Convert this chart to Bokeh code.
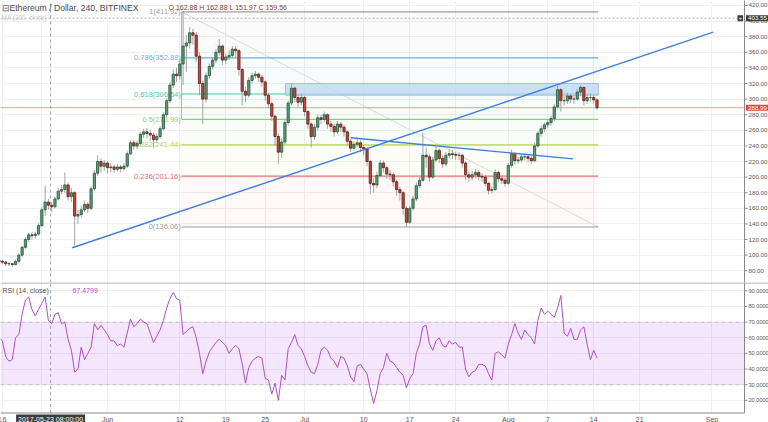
import numpy as np
from bokeh.plotting import figure
from bokeh.layouts import column
from bokeh.models import (ColumnDataSource, Range1d, FixedTicker, BoxAnnotation, Label)
from bokeh.core.properties import value
from bokeh.embed import file_html
from bokeh.resources import INLINE

FONT = "Liberation Sans"

# ---------------- data (ETH/USD, bars of 12h from 2017-05-15 12:00; x = days since 2017-06-01) ----------------
start_day = -16.5
bar_days = 0.5
first_open = 93
close = [92, 91, 89, 89, 88, 92, 100, 110, 120, 126,
         125, 127, 138, 158, 168, 164, 162, 172, 182, 184,
         190, 175, 180, 150, 152, 158, 165, 160, 185, 205,
         220, 214, 218, 212, 213, 210, 213, 211, 214, 230,
         244, 240, 243, 255, 258, 256, 254, 248, 252, 262,
         280, 298, 318, 332, 330, 345, 368, 372, 385, 382,
         355, 320, 300, 330, 342, 350, 360, 368, 350, 354,
         356, 364, 362, 338, 310, 305, 324, 330, 332, 328,
         322, 305, 294, 278, 252, 232, 245, 270, 295, 314,
         302, 296, 302, 284, 268, 252, 264, 276, 274, 280,
         268, 265, 258, 268, 264, 258, 246, 237, 242, 244,
         238, 236, 220, 192, 190, 202, 218, 212, 204, 203,
         194, 184, 180, 160, 142, 160, 172, 189, 196, 228,
         226, 200, 222, 234, 224, 217, 228, 230, 229, 228,
         228, 218, 203, 200, 203, 206, 201, 200, 192, 183,
         184, 206, 198, 196, 192, 215, 230, 221, 222, 226,
         226, 224, 221, 240, 256, 262, 267, 270, 275, 290,
         312, 298, 298, 304, 300, 300, 309, 315, 298, 302,
         302, 299, 289]
high = [95, 94, 92, 91, 90, 94, 102, 112, 123, 129,
        130, 130, 141, 162, 189, 172, 168, 175, 186, 190,
        206, 193, 186, 182, 158, 163, 170, 168, 188, 209,
        228, 224, 222, 221, 218, 216, 217, 216, 218, 233,
        247, 248, 247, 258, 262, 263, 260, 257, 256, 265,
        283, 301, 322, 338, 340, 352, 412, 382, 392, 390,
        386, 360, 324, 334, 346, 354, 364, 377, 370, 358,
        362, 368, 368, 364, 340, 316, 328, 334, 336, 334,
        331, 324, 308, 297, 280, 256, 250, 274, 298, 320,
        316, 306, 307, 304, 286, 270, 268, 280, 280, 284,
        282, 272, 268, 272, 271, 267, 260, 249, 246, 249,
        247, 241, 238, 222, 198, 207, 222, 221, 214, 209,
        206, 197, 188, 182, 163, 163, 176, 193, 200, 257,
        238, 229, 226, 240, 237, 228, 232, 236, 235, 233,
        232, 230, 220, 207, 208, 210, 209, 205, 203, 194,
        188, 210, 208, 202, 199, 218, 235, 232, 226, 229,
        230, 229, 227, 244, 259, 266, 270, 274, 279, 294,
        317, 314, 304, 308, 307, 305, 313, 318, 316, 306,
        307, 305, 301]
low = [89, 88, 86, 86, 85, 87, 90, 98, 108, 117,
       120, 121, 125, 136, 150, 158, 155, 160, 170, 178,
       180, 170, 168, 112, 140, 148, 155, 154, 158, 183,
       202, 206, 208, 205, 206, 205, 207, 206, 208, 212,
       228, 235, 236, 240, 250, 250, 246, 238, 244, 249,
       260, 277, 295, 314, 322, 325, 318, 335, 365, 370,
       348, 305, 268, 296, 326, 338, 346, 356, 344, 345,
       350, 352, 354, 330, 292, 296, 302, 320, 326, 322,
       316, 298, 288, 272, 240, 217, 225, 242, 266, 292,
       296, 290, 292, 278, 262, 238, 248, 260, 268, 270,
       262, 258, 252, 255, 258, 252, 240, 232, 234, 238,
       232, 228, 214, 178, 180, 186, 200, 206, 198, 196,
       188, 176, 170, 152, 136, 140, 157, 169, 186, 194,
       212, 194, 198, 219, 218, 212, 214, 224, 223, 222,
       222, 212, 196, 194, 196, 199, 196, 194, 188, 178,
       179, 182, 193, 191, 188, 190, 212, 216, 217, 219,
       221, 219, 217, 219, 238, 252, 258, 263, 266, 272,
       288, 284, 292, 294, 295, 294, 298, 304, 292, 294,
       296, 294, 286]
rsi = [60, 58, 48, 45, 46, 60, 62, 75, 84, 86,
       78, 74, 78, 82, 86, 71, 69, 75, 76, 69,
       70, 59, 52, 38, 40, 54, 46, 50, 54, 69,
       65, 68, 65, 62, 58, 58, 55, 56, 54, 63,
       72, 67, 69, 72, 70, 69, 63, 57, 61, 65,
       71, 79, 85, 89, 85, 84, 62, 64, 66, 67,
       60, 50, 37, 45, 51, 54, 57, 59, 57, 55,
       50, 53, 55, 53, 43, 31, 41, 45, 47, 48,
       47, 34, 33, 24, 31, 20, 36, 33, 53, 57,
       62, 55, 53, 48, 42, 38, 37, 43, 52, 54,
       52, 47, 45, 41, 48, 47, 42, 35, 32, 42,
       43, 40, 37, 27, 18, 26, 37, 41, 50, 45,
       44, 41, 38, 36, 28, 34, 37, 50, 56, 67,
       68, 56, 52, 58, 60, 55, 54, 58, 56, 57,
       54, 54, 40, 35, 38, 39, 43, 43, 42, 37,
       33, 50, 51, 49, 47, 56, 62, 69, 63, 59,
       65, 62, 60, 56, 71, 79, 75, 77, 75, 73,
       79, 87, 63, 61, 66, 59, 59, 65, 67, 56,
       46, 52, 47]

fib_levels = [0, 0.236, 0.382, 0.5, 0.618, 0.786, 1]
fib_prices = [136.06, 201.16, 241.44, 273.99, 306.54, 352.88, 411.92]
fib_colors = ["#9e9e9e", "#e57373", "#b5d64f", "#86d06f", "#4fc7a0", "#5fb3e3", "#9e9e9e"]
fib_start, fib_end = 11.25, 74.7

trend1_x, trend1_y = [-5.37, 92.19], [109.4, 385.8]
trend2_x, trend2_y = [36.99, 70.88], [250.4, 223.4]
zone_x, zone_y = [27.1, 74.7], [305.0, 320.0]

last_price = 288.99
cross_price = 403.55
cross_day = -8.667
cross_text = "2017-05-23 08:00:00"

date_ticks = [-16, -10, 0, 11, 18, 24, 30, 39, 46, 53, 61, 67, 74, 81, 92]
date_labels = ["16", "22", "Jun", "12", "19", "25", "Jul", "10", "17", "24", "Aug", "7", "14", "21", "Sep"]
price_ticks = [80, 100, 120, 140, 160, 180, 200, 220, 240, 260, 280, 300, 320, 340, 360, 380, 400, 420]
rsi_ticks = [20, 30, 40, 50, 60, 70, 80, 90]

# ---------------- layout helpers (pixel -> data) ----------------
X0 = -16.29
PX_PER_DAY = 6.57
P_TOP, P_BOT = 426.4, 64.9          # main pane: y=0 .. 282 px
R_PX_PER = 1.565                     # RSI pane: 90 at y=290.3 px


def px2day(px):
    return X0 + px / PX_PER_DAY


def py2price(py):
    return P_TOP - py * (P_TOP - P_BOT) / 282.0


def py2rsi(py):
    return 90 - (py - 290.3) / R_PX_PER


R_TOP, R_BOT = py2rsi(282), py2rsi(422)
XR = Range1d(X0, px2day(768))
AX = px2day(744)
XE = px2day(770)
AXIS_C = "#8a8a8a"
GRID = "#f0f0f0"
LBL_C = "#555555"
PAD = dict(x=2, y=1)

n = len(close)
t = start_day + bar_days * np.arange(n)
opens = [first_open] + close[:-1]
up = [c >= o for o, c in zip(opens, close)]
src = ColumnDataSource(dict(
    t=t, o=opens, c=close, h=high, l=low,
    top=[max(o, c) for o, c in zip(opens, close)],
    bot=[min(o, c) for o, c in zip(opens, close)],
    fill=["#5f9f78" if u else "#c9473a" for u in up],
    line=["#225437" if u else "#5b1a13" for u in up],
    rsi=rsi,
))


def base_fig(h, yr):
    f = figure(frame_width=768, frame_height=h, x_range=XR, y_range=yr,
               toolbar_location=None, output_backend="svg",
               min_border_left=0, min_border_top=0, min_border_bottom=0, min_border_right=0)
    f.title.visible = False
    f.xaxis.visible = False
    f.yaxis.visible = False
    f.outline_line_color = None
    f.xgrid.ticker = FixedTicker(ticks=date_ticks)
    f.xgrid.grid_line_color = GRID
    f.ygrid.grid_line_color = GRID
    return f


def scale_strip(f, ticks, fmt, size, ylo, yhi):
    # white strip right of the plotting area with the value scale
    f.quad(left=AX, right=XE, bottom=ylo, top=yhi, fill_color="white", line_color=None)
    f.segment(x0=[AX], x1=[AX], y0=[ylo], y1=[yhi], line_color=AXIS_C, line_width=1)
    s = ColumnDataSource(dict(y=ticks, x0=[AX] * len(ticks), x1=[px2day(747)] * len(ticks),
                              tx=[px2day(748)] * len(ticks), text=[fmt % v for v in ticks]))
    f.segment(x0="x0", x1="x1", y0="y", y1="y", line_color=AXIS_C, line_width=1, source=s)
    f.text(x="tx", y="y", text="text", text_color=LBL_C, text_align="left", text_baseline="middle",
           text_font=value(FONT), text_font_size=size, source=s)


# ---------------- main price pane ----------------
p = base_fig(282, Range1d(P_BOT, P_TOP))
p.ygrid.ticker = FixedTicker(ticks=price_ticks)

for k in range(len(fib_prices) - 1):
    p.quad(left=fib_start, right=fib_end, bottom=fib_prices[k], top=fib_prices[k + 1],
           fill_color=fib_colors[k + 1], fill_alpha=0.05, line_color=None)
p.line(x=[fib_start, fib_end], y=[fib_prices[-1], fib_prices[0]], line_color="#d9d9d9", line_width=1)
p.segment(x0=[fib_start], y0=[fib_prices[-1]], x1=[fib_start], y1=[fib_prices[3]],
          line_color="#b0b0b0", line_width=1)
fsrc = ColumnDataSource(dict(
    x0=[fib_start] * len(fib_prices), x1=[fib_end] * len(fib_prices), y=fib_prices,
    color=fib_colors, tx=[fib_start - 0.1] * len(fib_prices),
    text=["%g(%.2f)" % (l, v) for l, v in zip(fib_levels, fib_prices)]))
p.segment(x0="x0", y0="y", x1="x1", y1="y", line_color="color", line_width=1.2, source=fsrc)
p.text(x="tx", y="y", text="text", text_color="color", text_align="right", text_baseline="middle",
       text_font=value(FONT), text_font_size="7.5px", source=fsrc)

p.quad(left=zone_x[0], right=zone_x[1], bottom=zone_y[0], top=zone_y[1],
       fill_color="#bcd5f1", fill_alpha=0.75, line_color="#9cbfe8", line_width=1)

p.segment(x0=[X0], x1=[AX], y0=[last_price], y1=[last_price], line_color="#f19a90", line_width=1)
p.segment(x0=[X0], x1=[AX], y0=[cross_price], y1=[cross_price], line_color="#b5b5b5",
          line_width=1, line_dash="2 2")
p.segment(x0=[cross_day], x1=[cross_day], y0=[P_BOT], y1=[P_TOP], line_color="#a0a0a0",
          line_width=1, line_dash="3 3")

p.segment(x0="t", y0="l", x1="t", y1="h", line_color="#a3a3a3", line_width=1, source=src)
p.vbar(x="t", width=0.34, top="top", bottom="bot", fill_color="fill", line_color="line",
       line_width=0.8, source=src)

p.line(x=trend1_x, y=trend1_y, line_color="#3f7fdc", line_width=1.4)
p.line(x=trend2_x, y=trend2_y, line_color="#3f7fdc", line_width=1.4)

scale_strip(p, price_ticks, "%.2f", "6.2px", P_BOT - 5, P_TOP + 5)

p.add_layout(Label(x=px2day(1), y=py2price(7), text="\u229f", text_font=FONT, text_font_size="9px",
                   text_color="#666666", text_baseline="middle"))
p.add_layout(Label(x=px2day(9), y=py2price(7), text="Ethereum / Dollar, 240, BITFINEX",
                   text_font=FONT, text_font_size="8.6px", text_color="#4a4a4a", text_baseline="middle"))
p.add_layout(Label(x=px2day(168), y=py2price(6.5), text="O 162.88 H 162.88 L 151.97 C 159.56",
                   text_font=FONT, text_font_size="7px", text_color="#8e3b32", text_baseline="middle"))
p.add_layout(Label(x=px2day(1), y=py2price(16.5), text="MA (200, close)",
                   text_font=FONT, text_font_size="6.5px", text_color="#c8c8c8", text_baseline="middle"))
p.add_layout(Label(x=px2day(745.5), y=last_price, text=f"{last_price:.2f}", text_font=FONT,
                   text_font_size="6.2px", text_color="white", text_baseline="middle",
                   background_fill_color="#e0463a", padding=PAD))
p.add_layout(Label(x=px2day(745.5), y=cross_price, text=f"{cross_price:.2f}", text_font=FONT,
                   text_font_size="6.2px", text_color="white", text_baseline="middle",
                   background_fill_color="#3c3c3c", padding=PAD))
p.add_layout(Label(x=px2day(737), y=cross_price, text="+", text_font=FONT,
                   text_font_size="6.2px", text_color="white", text_baseline="middle",
                   background_fill_color="#3c3c3c", padding=1))

# ---------------- RSI pane ----------------
r = base_fig(140, Range1d(R_BOT, R_TOP))
r.ygrid.ticker = FixedTicker(ticks=rsi_ticks)
Y_AX = py2rsi(412.5)

r.add_layout(BoxAnnotation(bottom=30, top=70, fill_color="#9c27f0", fill_alpha=0.11,
                           line_color=None, level="underlay"))
r.segment(x0=[X0, X0], x1=[AX, AX], y0=[70, 30], y1=[70, 30], line_color="#c9bcd6",
          line_dash="4 3", line_width=1)
r.segment(x0=[cross_day], x1=[cross_day], y0=[Y_AX], y1=[R_TOP], line_color="#a0a0a0",
          line_width=1, line_dash="3 3")
r.line(x="t", y="rsi", line_color="#b04dcc", line_width=1, source=src)

# bottom time scale
r.quad(left=X0 - 1, right=XE, bottom=R_BOT - 5, top=Y_AX, fill_color="white", line_color=None)
scale_strip(r, rsi_ticks, "%.4f", "5.6px", Y_AX, R_TOP + 5)
r.segment(x0=[X0], x1=[AX], y0=[Y_AX], y1=[Y_AX], line_color=AXIS_C, line_width=1)
r.segment(x0=[X0], x1=[XE], y0=[py2rsi(282.5)], y1=[py2rsi(282.5)], line_color="#9a9a9a", line_width=1)
dsrc = ColumnDataSource(dict(x=date_ticks, y=[py2rsi(418.5)] * len(date_ticks), text=date_labels))
r.text(x="x", y="y", text="text", text_color=LBL_C, text_align="center", text_baseline="middle",
       text_font=value(FONT), text_font_size="7px", source=dsrc)

r.add_layout(Label(x=px2day(2), y=py2rsi(290), text="RSI (14, close)", text_font=FONT,
                   text_font_size="7px", text_color="#555555", text_baseline="middle"))
r.add_layout(Label(x=px2day(72), y=py2rsi(290), text="67.4799", text_font=FONT,
                   text_font_size="7px", text_color="#b04dcc", text_baseline="middle"))
r.add_layout(Label(x=cross_day, y=py2rsi(418.5), text=cross_text, text_font=FONT,
                   text_font_size="7px", text_color="white", text_baseline="middle",
                   text_align="center", background_fill_color="#3c3c3c", padding=PAD))

layout = column(p, r, spacing=0)
open("out.html", "w").write(file_html(layout, INLINE))
